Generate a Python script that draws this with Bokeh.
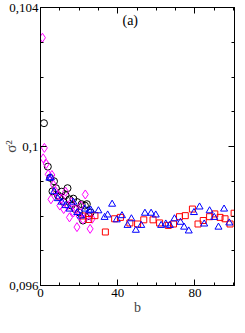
from bokeh.plotting import figure
from bokeh.models import (LinearAxis, Range1d, FixedTicker, Label, CustomJSTickFormatter)
from bokeh.embed import file_html
from bokeh.resources import INLINE

# ---- data ----
black_b = [1.8, 3.8, 5.0, 6.2, 7.0, 8.0, 9.0, 9.8, 11.0, 12.0, 13.0, 14.0, 15.0, 16.0,
           17.0, 18.0, 19.0, 20.0, 21.3, 22.0, 23.0, 24.0, 25.0, 26.0]
black_s = [0.10067, 0.09942, 0.09910, 0.09871, 0.09900, 0.09880, 0.09860, 0.09855,
           0.09870, 0.09840, 0.09860, 0.09880, 0.09848, 0.09830, 0.09850, 0.09820,
           0.09840, 0.09810, 0.09834, 0.09787, 0.09830, 0.09834, 0.09800, 0.09810]

mag_b = [1.0, 1.4, 2.0, 3.0, 4.0, 5.4, 5.9, 6.7, 7.8, 9.0, 10.0, 11.0, 12.0, 13.0,
         14.0, 15.0, 16.0, 17.0, 18.0, 18.9, 20.0, 21.0, 22.0, 23.2, 24.0, 25.7, 26.8]
mag_s = [0.10313, 0.09966, 0.09996, 0.09950, 0.09920, 0.09848, 0.09918, 0.09890,
         0.09871, 0.09860, 0.09830, 0.09850, 0.09820, 0.09870, 0.09830, 0.09796,
         0.09840, 0.09810, 0.09820, 0.09768, 0.09800, 0.09830, 0.09790, 0.09862,
         0.09800, 0.09763, 0.09792]

blue_b = [4.6, 5.4, 7.0, 9.0, 11.0, 13.0, 15.0, 17.0, 19.0, 21.0, 23.0, 25.2, 26.0,
          30.0, 33.2, 34.8, 37.1, 39.5, 42.2, 45.1, 47.1, 49.4, 52.2, 54.1, 57.3,
          59.7, 62.5, 64.9, 67.0, 69.4, 72.5, 74.4, 76.8, 79.5, 82.4, 84.8, 87.6,
          90.0, 92.2, 95.1, 97.8]
blue_s = [0.09909, 0.09910, 0.09870, 0.09850, 0.09840, 0.09830, 0.09820, 0.09840,
          0.09810, 0.09800, 0.09820, 0.09815, 0.09817, 0.09815, 0.09796, 0.09803,
          0.09834, 0.09789, 0.09801, 0.09773, 0.09792, 0.09759, 0.09773, 0.09808,
          0.09808, 0.09803, 0.09773, 0.09777, 0.09773, 0.09792, 0.09782, 0.09768,
          0.09757, 0.09810, 0.09826, 0.09777, 0.09815, 0.09796, 0.09768, 0.09820,
          0.09780]

red_b = [22.0, 25.0, 28.2, 33.6, 38.4, 41.4, 46.3, 50.3, 53.5, 58.3, 61.7, 66.2,
         68.9, 72.0, 75.0, 78.7, 81.6, 84.3, 87.6, 90.3, 93.0, 95.6, 98.2, 100.3]
red_s = [0.09800, 0.09790, 0.09801, 0.09754, 0.09792, 0.09796, 0.09780, 0.09777,
         0.09789, 0.09789, 0.09780, 0.09773, 0.09777, 0.09798, 0.09801, 0.09820,
         0.09777, 0.09787, 0.09798, 0.09806, 0.09796, 0.09792, 0.09777, 0.09808]

x_major = [0, 40, 80]
x_minor = [10, 20, 30, 50, 60, 70, 90, 100]
y_major = [0.096, 0.1, 0.104]
y_minor = [0.097, 0.098, 0.099, 0.101, 0.102, 0.103]

FONT = "Liberation Serif"

p = figure(width=236, height=317, output_backend="svg", toolbar_location=None,
           x_range=Range1d(0, 100.5), y_range=Range1d(0.096, 0.104),
           x_axis_location=None, y_axis_location=None)
p.min_border_left = 20
p.min_border_right = 2
p.min_border_top = 7
p.min_border_bottom = 20
p.grid.visible = False
p.outline_line_color = "black"
p.outline_line_width = 1
p.background_fill_color = "white"
p.border_fill_color = "white"


def make_axis(show_labels, ticks_major, ticks_minor):
    ax = LinearAxis(ticker=FixedTicker(ticks=ticks_major, minor_ticks=ticks_minor))
    ax.major_tick_in = 6
    ax.major_tick_out = 0
    ax.minor_tick_in = 3
    ax.minor_tick_out = 0
    ax.axis_line_color = "black"
    ax.major_tick_line_color = "black"
    ax.minor_tick_line_color = "black"
    ax.major_label_text_font = FONT
    ax.major_label_text_font_size = "13px"
    ax.major_label_text_color = "black"
    if show_labels:
        ax.major_label_standoff = 2
    else:
        ax.major_label_text_alpha = 0
        ax.major_label_text_font_size = "1px"
        ax.major_label_standoff = 0
    return ax


xb = make_axis(True, x_major, x_minor)
xb.axis_label = "b"
xb.axis_label_text_font = FONT
xb.axis_label_text_font_style = "normal"
xb.axis_label_text_font_size = "14px"
xb.major_label_standoff = 3
xb.axis_label_standoff = 0
p.add_layout(xb, "below")

yl = make_axis(True, y_major, y_minor)
# decimal comma, trailing zeros removed: 0.1 -> "0,1"
yl.formatter = CustomJSTickFormatter(code="""
    let s = tick.toFixed(3);
    s = s.replace(/0+$/, '');
    return s.replace('.', ',');
""")
yl.axis_label = "σ²"
yl.axis_label_text_font = FONT
yl.axis_label_text_font_style = "normal"
yl.axis_label_text_font_size = "15px"
yl.axis_label_standoff = -13
p.add_layout(yl, "left")

xt = make_axis(False, x_major, x_minor)
p.add_layout(xt, "above")
yr = make_axis(False, y_major, y_minor)
p.add_layout(yr, "right")

p.add_layout(Label(x=46.5, y=0.10362, text="(a)", text_font=FONT,
                   text_font_size="14px", text_align="center",
                   text_baseline="middle", text_color="black"))

sz = 7
p.scatter(black_b, black_s, marker="circle", size=sz, fill_color=None,
          line_color="black", line_width=1)
p.scatter(mag_b, mag_s, marker="diamond", size=sz + 2, fill_color=None,
          line_color="#ff00ff", line_width=1)
p.scatter(red_b, red_s, marker="square", size=sz - 1, fill_color=None,
          line_color="#ff0000", line_width=1)
p.scatter(blue_b, blue_s, marker="triangle", size=sz, fill_color=None,
          line_color="#0000ff", line_width=1)

open("out.html", "w").write(file_html(p, INLINE))
